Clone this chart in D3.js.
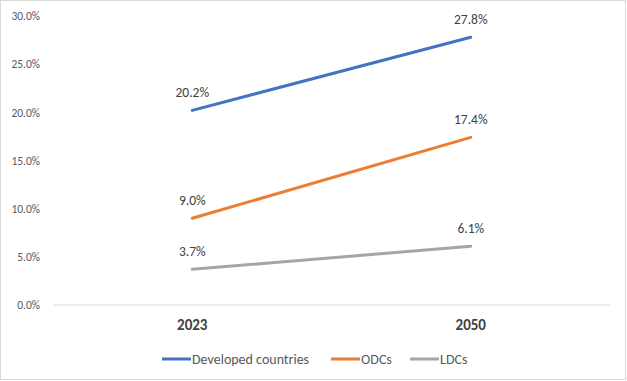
<!DOCTYPE html>
<html><head><meta charset="utf-8">
<script src="https://cdn.jsdelivr.net/npm/d3@7"></script>
<style>body{margin:0;background:#fff;} text{font-family:Calibri,Carlito,Lato,sans-serif;}</style>
</head><body>
<svg id="c" width="627" height="381"></svg>
<script>
const categories = ["2023", "2050"];
const seriesNames = ["Developed countries", "ODCs", "LDCs"];
const developed = [0.202, 0.278];
const odcs = [0.090, 0.174];
const ldcs = [0.037, 0.061];
const yTicks = [0, 0.05, 0.10, 0.15, 0.20, 0.25, 0.30];
const colors = ["#4472C4", "#ED7D31", "#A5A5A5"];
const seriesValues = [developed, odcs, ldcs];

const svg = d3.select("#c");
svg.append("rect").attr("x",0.5).attr("y",0.5).attr("width",625).attr("height",379)
  .attr("fill","#fff").attr("stroke","#d9d9d9");

const x = d3.scaleBand().domain(categories).range([53, 610]);
const y = d3.scaleLinear().domain([0, 0.30]).range([305, 16]);
const fmt = d3.format(".1%");

const yAxis = d3.axisLeft(y).tickValues(yTicks).tickFormat(fmt).tickSize(0).tickPadding(13);
const gy = svg.append("g").attr("transform","translate(53,0)").call(yAxis);
gy.select(".domain").remove();
gy.selectAll("text").attr("fill","#595959").style("font-size","11.5px");

svg.append("line").attr("x1",53).attr("x2",610).attr("y1",y(0)).attr("y2",y(0))
  .attr("stroke","#d9d9d9").attr("stroke-width",1);

const xAxis = d3.axisBottom(x).tickSize(0).tickPadding(14);
const gx = svg.append("g").attr("transform",`translate(0,${y(0)})`).call(xAxis);
gx.select(".domain").remove();
gx.selectAll("text").attr("fill","#404040").style("font-size","15px").style("font-weight","bold");

const line = d3.line().x((d,i)=>x(categories[i])+x.bandwidth()/2).y(d=>y(d));
seriesValues.forEach((vals, si) => {
  svg.append("path").datum(vals).attr("d", line).attr("fill","none")
    .attr("stroke", colors[si]).attr("stroke-width", 3).attr("stroke-linecap","round");
  svg.selectAll(null).data(vals).enter().append("text")
    .attr("x",(d,i)=>x(categories[i])+x.bandwidth()/2)
    .attr("y",d=>y(d)-13)
    .attr("text-anchor","middle").attr("fill","#404040").style("font-size","13.5px")
    .text(d=>fmt(d));
});

const legendX = [162, 331, 410];
seriesNames.forEach((n, i) => {
  const g = svg.append("g").attr("transform",`translate(${legendX[i]},359)`);
  g.append("line").attr("x1",0).attr("x2",29).attr("y1",0).attr("y2",0)
    .attr("stroke",colors[i]).attr("stroke-width",3);
  g.append("text").attr("x",30).attr("y",5).attr("fill","#595959").style("font-size","14px").text(n);
});
</script>
</body></html>
